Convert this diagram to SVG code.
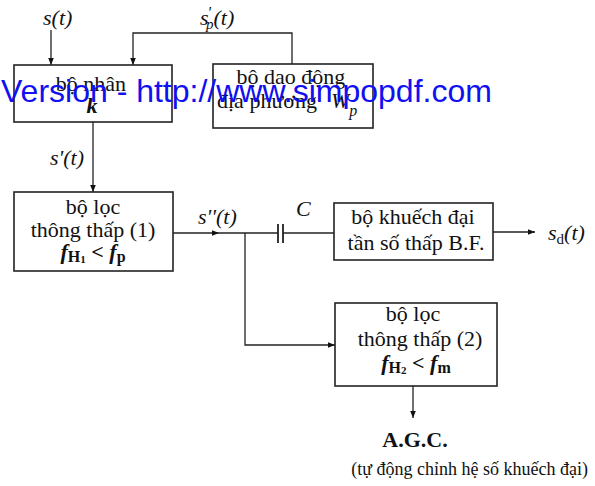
<svg xmlns="http://www.w3.org/2000/svg" width="595" height="486" viewBox="0 0 595 486">
<defs>
<marker id="ah" viewBox="0 0 10 10" refX="10" refY="5" markerWidth="7" markerHeight="7" orient="auto" markerUnits="userSpaceOnUse">
<path d="M0,1 L10,5 L0,9 Z" fill="#111"/>
</marker>
<style>
.box{fill:#fff;stroke:#222;stroke-width:1.6}
.ln{fill:none;stroke:#222;stroke-width:1.3}
.t{font-family:"Liberation Serif","Times New Roman",serif;font-size:22px;fill:#111;text-anchor:middle}
.lbl{font-family:"Liberation Serif","Times New Roman",serif;font-size:22px;fill:#111;font-style:italic}
.bi{font-weight:bold;font-style:italic}
.wm{font-family:"Liberation Sans",Arial,sans-serif;font-size:32px;fill:#1010f0}
</style>
</defs>
<rect width="595" height="486" fill="#fff"/>

<g id="connectors">
<path class="ln" d="M51,30 V65" marker-end="url(#ah)"/>
<path class="ln" d="M292,64 V33 H133 V65" marker-end="url(#ah)"/>
<path class="ln" d="M93,122 V192" marker-end="url(#ah)"/>
<path class="ln" d="M173,233 H219" marker-end="url(#ah)"/>
<path class="ln" d="M219,233 H278"/>
<path class="ln" d="M278,224 V243 M283,224 V243" style="stroke-width:1.8"/>
<path class="ln" d="M283,233 H334"/>
<path class="ln" d="M493,232 H535" marker-end="url(#ah)"/>
<path class="ln" d="M245,233 V345 H335" marker-end="url(#ah)"/>
<path class="ln" d="M413,386 V418" marker-end="url(#ah)"/>
</g>

<g id="mixer">
<rect class="box" x="14" y="65" width="158" height="57"/>
<text class="t" x="91" y="91">bộ nhân</text>
<text class="t bi" x="92" y="113">k</text>
</g>

<g id="oscillator">
<rect class="box" x="213" y="64" width="160" height="64"/>
<text class="t" x="291" y="84">bộ dao động</text>
<text class="lbl" x="217" y="108" style="font-style:normal">địa phương</text>
<text class="lbl" x="331" y="108">W<tspan font-size="16" dy="8">p</tspan></text>
</g>

<g id="lpf1">
<rect class="box" x="14" y="192" width="159" height="79"/>
<text class="t" x="93" y="214">bộ lọc</text>
<text class="t" x="93" y="237">thông thấp (1)</text>
<text class="t" x="93" y="259" font-weight="bold"><tspan font-style="italic">f</tspan><tspan font-size="16" dy="3">H</tspan><tspan font-size="11" dy="1">1</tspan><tspan dy="-4"> &lt; </tspan><tspan font-style="italic">f</tspan><tspan font-size="16" dy="3">p</tspan></text>
</g>

<g id="amp">
<rect class="box" x="334" y="203" width="159" height="57"/>
<text class="t" x="413" y="224">bộ khuếch đại</text>
<text class="t" x="416" y="250">tần số thấp B.F.</text>
</g>

<g id="lpf2">
<rect class="box" x="335" y="303" width="162" height="83"/>
<text class="t" x="413" y="321">bộ lọc</text>
<text class="t" x="420" y="346">thông thấp (2)</text>
<text class="t" x="416" y="370" font-weight="bold"><tspan font-style="italic">f</tspan><tspan font-size="16" dy="3">H</tspan><tspan font-size="11" dy="1">2</tspan><tspan dy="-4"> &lt; </tspan><tspan font-style="italic">f</tspan><tspan font-size="16" dy="3">m</tspan></text>
</g>

<g id="agc">
<text class="t" x="415" y="447" font-weight="bold" font-size="20">A.G.C.</text>
<text class="t" x="588" y="475" style="text-anchor:end;font-size:18px">(tự động chỉnh hệ số khuếch đại)</text>
</g>

<g id="labels">
<text class="lbl" x="43" y="25">s(t)</text>
<text class="lbl" x="200" y="25">s<tspan font-size="16" dx="-1" dy="-7">'</tspan><tspan font-size="15" dx="-5" dy="11">p</tspan><tspan dy="-4">(t)</tspan></text>
<text class="lbl" x="50" y="165">s'(t)</text>
<text class="lbl" x="198" y="224">s''(t)</text>
<text class="lbl" x="296" y="216" font-family="Liberation Sans, Arial, sans-serif" font-size="20">C</text>
<text class="lbl" x="548" y="240">s<tspan font-size="15" dy="4" font-style="normal">d</tspan><tspan dy="-4">(t)</tspan></text>
</g>

<text class="wm" x="1" y="102">Version - http://www.simpopdf.com</text>
</svg>
